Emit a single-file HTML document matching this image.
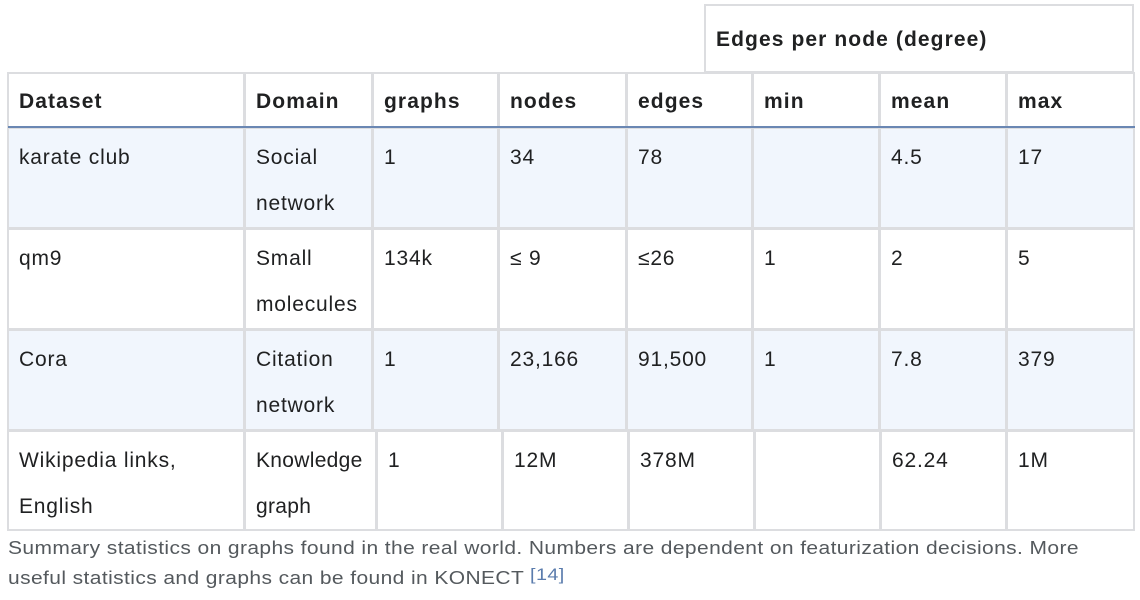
<!DOCTYPE html>
<html><head><meta charset="utf-8"><style>
body{margin:0;width:1140px;height:600px;background:#fff;position:relative;font-family:"Liberation Sans",Arial,sans-serif;color:#202122;overflow:hidden}
.c{position:absolute;box-sizing:border-box;border:2px solid #dcdde0;font-size:21px;letter-spacing:0.8px;line-height:46px;padding:5px 0 0 10px;margin:-1px 0 0 -1px;white-space:nowrap}
.h{font-weight:bold;letter-spacing:1.1px}
.b{background:#f1f6fd}
.cap{position:absolute;left:8px;top:533px;font-size:18px;letter-spacing:0.35px;line-height:30px;color:#54595d;white-space:nowrap;transform:scaleX(1.165);transform-origin:0 0}
.cap sup{color:#5b7cad;font-size:17px;vertical-align:4px;line-height:0}
.line{position:absolute;left:8px;width:1127px;top:126px;height:2px;background:#6a87b3}
</style></head><body>
<div class="c h" style="left:705px;top:5px;width:430px;height:69px;padding-top:11px">Edges per node (degree)</div>
<div id="t"></div>
<div class="line"></div>
<div class="cap">Summary statistics on graphs found in the real world. Numbers are dependent on featurization decisions. More<br>useful statistics and graphs can be found in KONECT <sup>[14]</sup></div>
<script>
var cols=[8,245,373,499,627,753,880,1007,1135];
var colsLast=[8,245,377,503,629,755,881,1007,1135];
var rows=[73,128,229,330,431,531];
var data=[
["Dataset","Domain","graphs","nodes","edges","min","mean","max"],
["karate club","Social<br>network","1","34","78","","4.5","17"],
["qm9","Small<br>molecules","134k","≤ 9","≤26","1","2","5"],
["Cora","Citation<br>network","1","23,166","91,500","1","7.8","379"],
["Wikipedia links,<br>English","Knowledge<br>graph","1","12M","378M","","62.24","1M"]];
var t=document.getElementById('t');
for(var r=0;r<data.length;r++){
 var cs=r==4?colsLast:cols;
 for(var c=0;c<8;c++){
  var d=document.createElement('div');
  d.className='c'+(r==0?' h':'')+((r==1||r==3)?' b':'');
  
  
  d.style.left=cs[c]+'px';d.style.top=rows[r]+'px';
  d.style.width=(cs[c+1]-cs[c]+1)+'px';d.style.height=(rows[r+1]-rows[r]+1)+'px';
  if(r>0)d.style.paddingTop='6px';
  if(r==4&&c==1)d.style.letterSpacing='0.3px';
  d.innerHTML=data[r][c];
  t.appendChild(d);
 }
}
</script>
</body></html>
